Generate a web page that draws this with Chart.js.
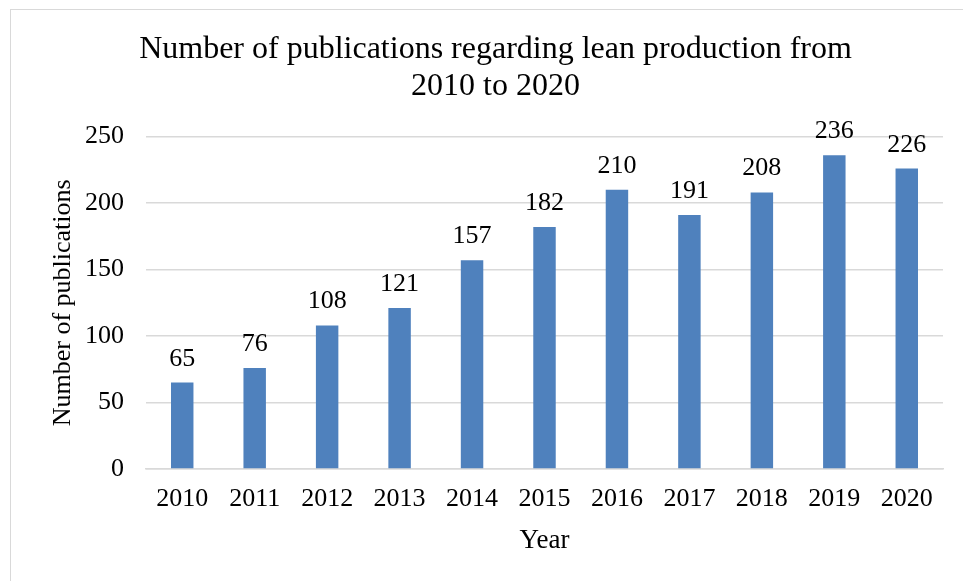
<!DOCTYPE html>
<html>
<head>
<meta charset="utf-8">
<script src="https://cdn.jsdelivr.net/npm/chart.js@4/dist/chart.umd.min.js"></script>
<style>
  html, body { margin: 0; padding: 0; background: #fff; overflow: hidden; }
  #wrap { position: relative; width: 963px; height: 581px; }
  #frame { position: absolute; left: 10px; top: 9px; width: 1000px; height: 640px; border: 1px solid #d9d9d9; }
  canvas { position: absolute; left: 0; top: 0; }
</style>
</head>
<body>
<div id="wrap">
  <div id="frame"></div>
  <canvas id="chart" width="963" height="581"></canvas>
</div>
<script>
const years = ["2010", "2011", "2012", "2013", "2014", "2015", "2016", "2017", "2018", "2019", "2020"];
const publications = [65, 76, 108, 121, 157, 182, 210, 191, 208, 236, 226];
const titleLines = ["Number of publications regarding lean production from", "2010 to 2020"];

const SERIF = "'Liberation Serif', 'Times New Roman', serif";

// values printed above each bar
const barValues = {
  id: "barValues",
  afterDatasetsDraw(chart) {
    const ctx = chart.ctx;
    const meta = chart.getDatasetMeta(0);
    ctx.save();
    ctx.font = "26px " + SERIF;
    ctx.fillStyle = "#000";
    ctx.textAlign = "center";
    ctx.textBaseline = "alphabetic";
    meta.data.forEach((bar, i) => {
      ctx.fillText(String(publications[i]), bar.x, bar.y - 17);
    });
    ctx.restore();
  },
};

new Chart(document.getElementById("chart"), {
  type: "bar",
  data: {
    labels: years,
    datasets: [{
      data: publications,
      backgroundColor: "#4f81bd",
      barPercentage: 0.62,
      categoryPercentage: 0.5,
    }],
  },
  options: {
    responsive: false,
    animation: false,
    layout: { padding: { left: 48, right: 20, top: 31, bottom: 24 } },
    plugins: {
      legend: { display: false },
      tooltip: { enabled: false },
      title: {
        display: true,
        text: titleLines,
        color: "#000",
        font: { family: SERIF, size: 32, weight: "normal", lineHeight: 1.15 },
        padding: { top: 0, bottom: 32 },
      },
    },
    scales: {
      x: {
        grid: { display: false, drawTicks: false },
        border: { color: "#d9d9d9", width: 1.5 },
        ticks: { color: "#000", font: { family: SERIF, size: 26 }, padding: 15, maxRotation: 0 },
        title: { display: true, text: "Year", color: "#000", font: { family: SERIF, size: 27 }, padding: { top: 0, bottom: 0 } },
        afterFit(scale) { scale.height = 88; },
      },
      y: {
        min: 0,
        max: 250,
        ticks: { stepSize: 50, color: "#000", font: { family: SERIF, size: 26 }, padding: 22 },
        grid: { color: "#d9d9d9", lineWidth: 1.5, drawTicks: false },
        border: { display: false },
        title: { display: true, text: "Number of publications", color: "#000", font: { family: SERIF, size: 26 }, padding: { top: 0, bottom: 2 } },
        afterFit(scale) { scale.width = 98; },
      },
    },
  },
  plugins: [barValues],
});
</script>
</body>
</html>
